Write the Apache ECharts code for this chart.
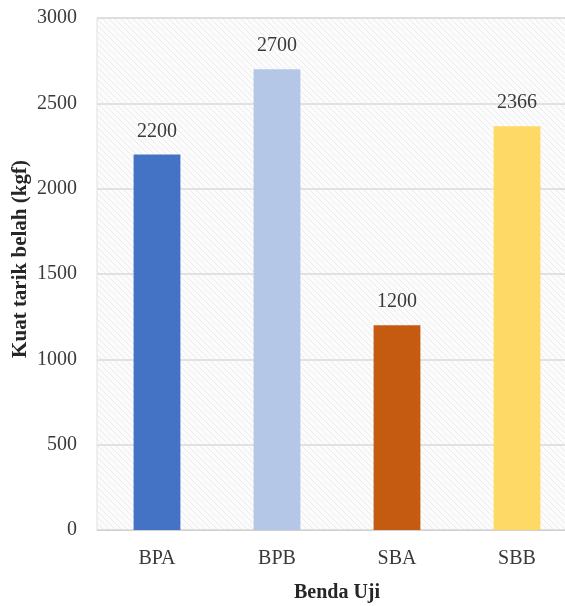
<!DOCTYPE html>
<html>
<head>
<meta charset="utf-8">
<script src="https://cdn.jsdelivr.net/npm/echarts@6/dist/echarts.min.js"></script>
<style>
  html, body { margin: 0; padding: 0; background: #fff; }
  #chart { width: 565px; height: 606px; }
</style>
</head>
<body>
<div id="chart"></div>
<script>
const categories = ['BPA', 'BPB', 'SBA', 'SBB'];
const values = [2200, 2700, 1200, 2366];
const barColors = ['#4472C4', '#B4C7E7', '#C55A11', '#FFD966'];
const yTicks = { min: 0, max: 3000, interval: 500 };

// light diagonal hatch for the plot background
function makeHatch() {
  const c = document.createElement('canvas');
  c.width = 6; c.height = 6;
  const ctx = c.getContext('2d');
  ctx.fillStyle = '#fcfcfc';
  ctx.fillRect(0, 0, 6, 6);
  ctx.strokeStyle = '#ebebeb';
  ctx.lineWidth = 1;
  ctx.beginPath();
  ctx.moveTo(0, 0); ctx.lineTo(6, 6);
  ctx.moveTo(-3, 3); ctx.lineTo(3, 9);
  ctx.moveTo(3, -3); ctx.lineTo(9, 3);
  ctx.stroke();
  return c;
}

const font = "'Liberation Serif', 'Times New Roman', serif";
const chart = echarts.init(document.getElementById('chart'));

chart.setOption({
  animation: false,
  grid: {
    left: 97, top: 18, width: 480, bottom: 76,
    outerBoundsMode: 'none',
    containLabel: false,
    show: true,
    backgroundColor: { image: makeHatch(), repeat: 'repeat' },
    borderColor: '#e0e0e0',
    borderWidth: 1
  },
  xAxis: {
    type: 'category',
    data: categories,
    name: 'Benda Uji',
    nameLocation: 'middle',
    nameGap: 53,
    nameTextStyle: { fontFamily: font, fontWeight: 'bold', fontSize: 20, color: '#262626' },
    axisLine: { lineStyle: { color: '#d0d0d0' } },
    axisTick: { show: false },
    axisLabel: { fontFamily: font, fontSize: 20, color: '#3a3a3a', margin: 19 }
  },
  yAxis: {
    type: 'value',
    min: yTicks.min, max: yTicks.max, interval: yTicks.interval,
    name: 'Kuat tarik belah (kgf)',
    nameLocation: 'middle',
    nameGap: 66,
    nameMoveOverlap: false,
    nameTextStyle: { fontFamily: font, fontWeight: 'bold', fontSize: 21, color: '#262626', padding: [0, 0, 0, 30] },
    axisLine: { show: false },
    axisTick: { show: false },
    axisLabel: { fontFamily: font, fontSize: 20, color: '#3a3a3a', margin: 20, formatter: v => String(v) },
    splitLine: { lineStyle: { color: '#dadada', width: 1.5 } }
  },
  series: [{
    type: 'bar',
    data: values.map((v, i) => ({ value: v, itemStyle: { color: barColors[i] } })),
    barWidth: '39%',
    label: {
      show: true, position: 'top', distance: 13,
      fontFamily: font, fontSize: 20, color: '#3a3a3a'
    }
  }]
});
</script>
</body>
</html>
